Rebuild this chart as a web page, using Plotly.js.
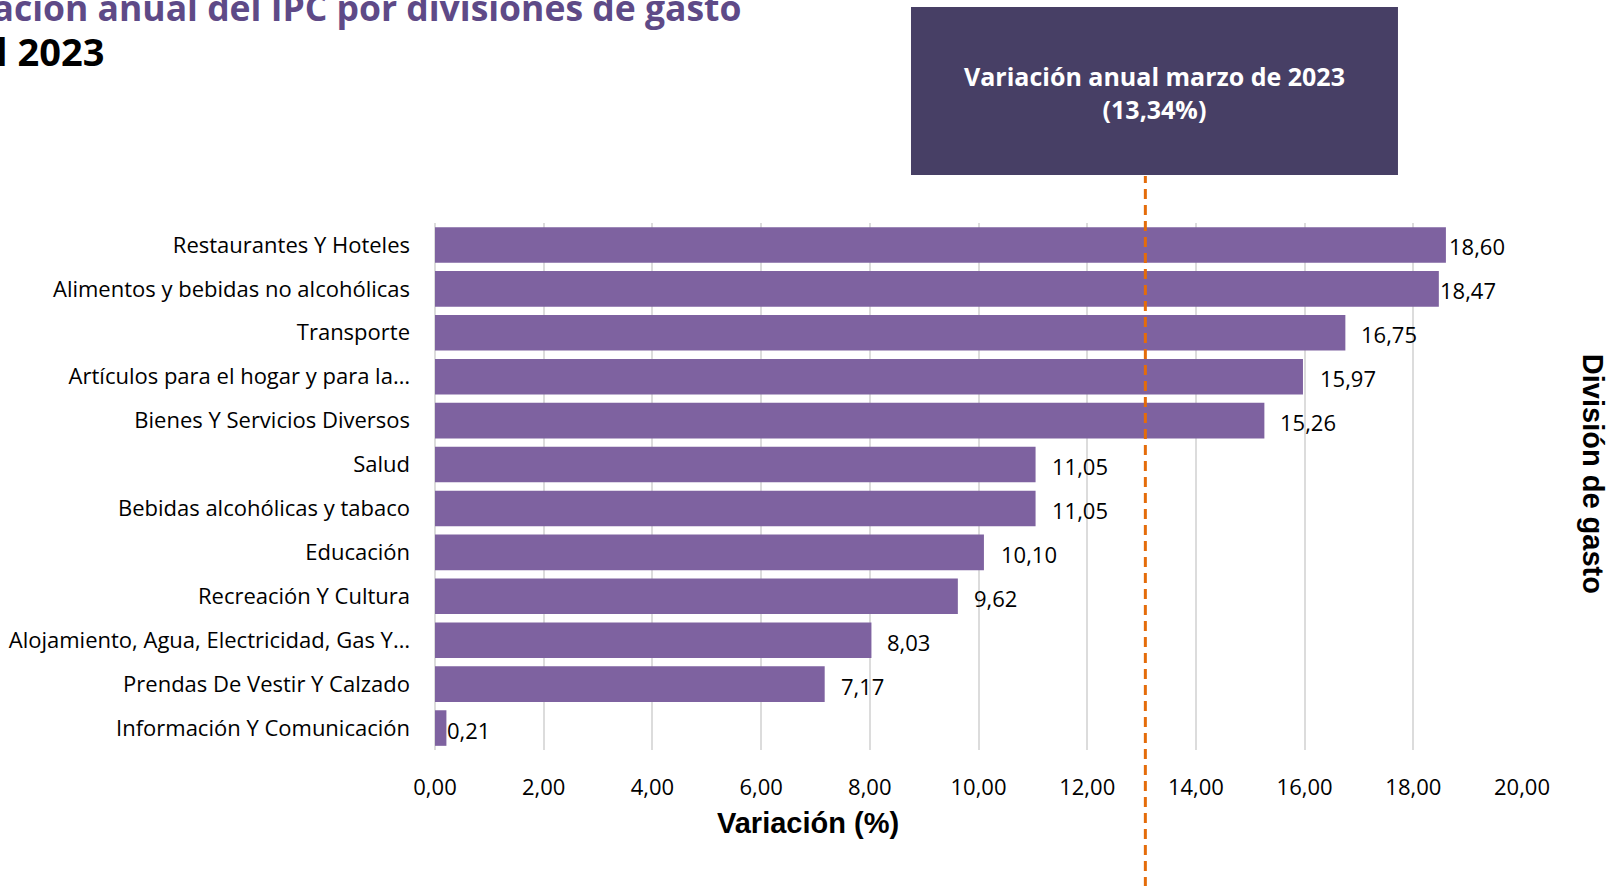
<!DOCTYPE html>
<html><head><meta charset="utf-8">
<script src="https://cdn.plot.ly/plotly-3.0.1.min.js"></script>
<style>html,body{margin:0;padding:0;background:#fff;}#chart{width:1608px;height:886px;}</style>
</head><body><div id="chart"></div>
<script>
// ---- data (top to bottom as drawn) ----
const categories = [
  "Restaurantes Y Hoteles",
  "Alimentos y bebidas no alcohólicas",
  "Transporte",
  "Artículos para el hogar y para la…",
  "Bienes Y Servicios Diversos",
  "Salud",
  "Bebidas alcohólicas y tabaco",
  "Educación",
  "Recreación Y Cultura",
  "Alojamiento, Agua, Electricidad, Gas Y…",
  "Prendas De Vestir Y Calzado",
  "Información Y Comunicación"
];
const values = [18.60, 18.47, 16.75, 15.97, 15.26, 11.05, 11.05, 10.10, 9.62, 8.03, 7.17, 0.21];
const xTickValues = [0, 2, 4, 6, 8, 10, 12, 14, 16, 18, 20];
const annualValue = 13.34;          // value quoted in the box
const annualLinePosition = 13.07;   // where the dashed line sits on the axis in the picture
const titleLine1 = "Variación anual del IPC por divisiones de gasto";
const titleLine2 = "Abril 2023";
const boxLabel = "Variación anual marzo de 2023";
const xTitle = "Variación (%)";
const yTitle = "División de gasto";

// ---- styles ----
const labelGaps = [3, 1, 16, 17, 16, 16, 16, 17, 16, 16, 16, 1];
const fmt = v => v.toFixed(2).replace('.', ',');
const xMax = 20;

const trace = {
  type: 'bar', orientation: 'h',
  x: values, y: categories,
  marker: {color: '#7e62a0', line: {width: 0}},
  hoverinfo: 'skip'
};

const annotations = values.map((v, i) => ({
  xref: 'x', yref: 'y', x: v, y: categories[i],
  text: fmt(v), showarrow: false, xanchor: 'left', yanchor: 'middle',
  xshift: labelGaps[i] - 2, yshift: -1.5,
  font: {family: 'Open Sans', size: 22, color: '#000'}
}));

annotations.push(
  {xref: 'paper', yref: 'paper', x: 0, y: 1.41, xshift: -516, xanchor: 'left', yanchor: 'middle',
   text: titleLine1, showarrow: false, font: {family: 'Open Sans', size: 35.5, color: '#5e4a87', weight: 'bold'}},
  {xref: 'paper', yref: 'paper', x: 0, y: 1.3265, xshift: -520, xanchor: 'left', yanchor: 'middle',
   text: titleLine2, showarrow: false, font: {family: 'Open Sans', size: 38, color: '#000', weight: 'bold'}},
  {xref: 'paper', yref: 'paper', x: 0.6619, y: 1.2475, xanchor: 'center', yanchor: 'middle',
   text: boxLabel + '<br>(' + fmt(annualValue) + '%)', showarrow: false,
   font: {family: 'Open Sans', size: 25, color: '#fff', weight: 'bold'}},
  {xref: 'paper', yref: 'paper', x: 0.3431, y: -0.138, xanchor: 'center', yanchor: 'middle',
   text: xTitle, showarrow: false, font: {family: 'Liberation Sans', size: 29, color: '#000', weight: 'bold'}},
  {xref: 'paper', yref: 'paper', x: 1.0655, y: 0.5237, xanchor: 'center', yanchor: 'middle', textangle: 90,
   text: yTitle, showarrow: false, font: {family: 'Liberation Sans', size: 29, color: '#000', weight: 'bold'}}
);

const layout = {
  width: 1608, height: 886,
  margin: {l: 435, r: 86, t: 223, b: 136, pad: 0},
  paper_bgcolor: '#fff', plot_bgcolor: '#fff',
  separators: ',.',
  bargap: 0.19,
  showlegend: false,
  xaxis: {
    range: [0, xMax], tickvals: xTickValues, tickformat: '.2f',
    showgrid: true, gridcolor: '#dcdcdc', gridwidth: 2,
    zeroline: true, zerolinecolor: '#dcdcdc', zerolinewidth: 2,
    showline: false, ticks: '', ticklabelstandoff: 22,
    tickfont: {family: 'Open Sans', size: 22, color: '#000'}, fixedrange: true
  },
  yaxis: {
    type: 'category', autorange: 'reversed',
    showgrid: false, zeroline: false, showline: false, ticks: '',
    ticklabelstandoff: 24,
    tickfont: {family: 'Open Sans', size: 22, color: '#000'}, fixedrange: true
  },
  shapes: [
    {type: 'rect', xref: 'paper', yref: 'paper', x0: 0.4379, x1: 0.8859, y0: 1.0911, y1: 1.4099,
     fillcolor: '#473f65', line: {width: 0}, layer: 'above'},
    {type: 'line', xref: 'paper', yref: 'paper', x0: annualLinePosition / xMax, x1: annualLinePosition / xMax,
     y0: -0.26, y1: 1.089, line: {color: '#e46c0a', width: 3, dash: '10px,6px'}, layer: 'above'}
  ],
  annotations: annotations
};

Plotly.newPlot('chart', [trace], layout, {displayModeBar: false, staticPlot: true});
</script>
</body></html>
